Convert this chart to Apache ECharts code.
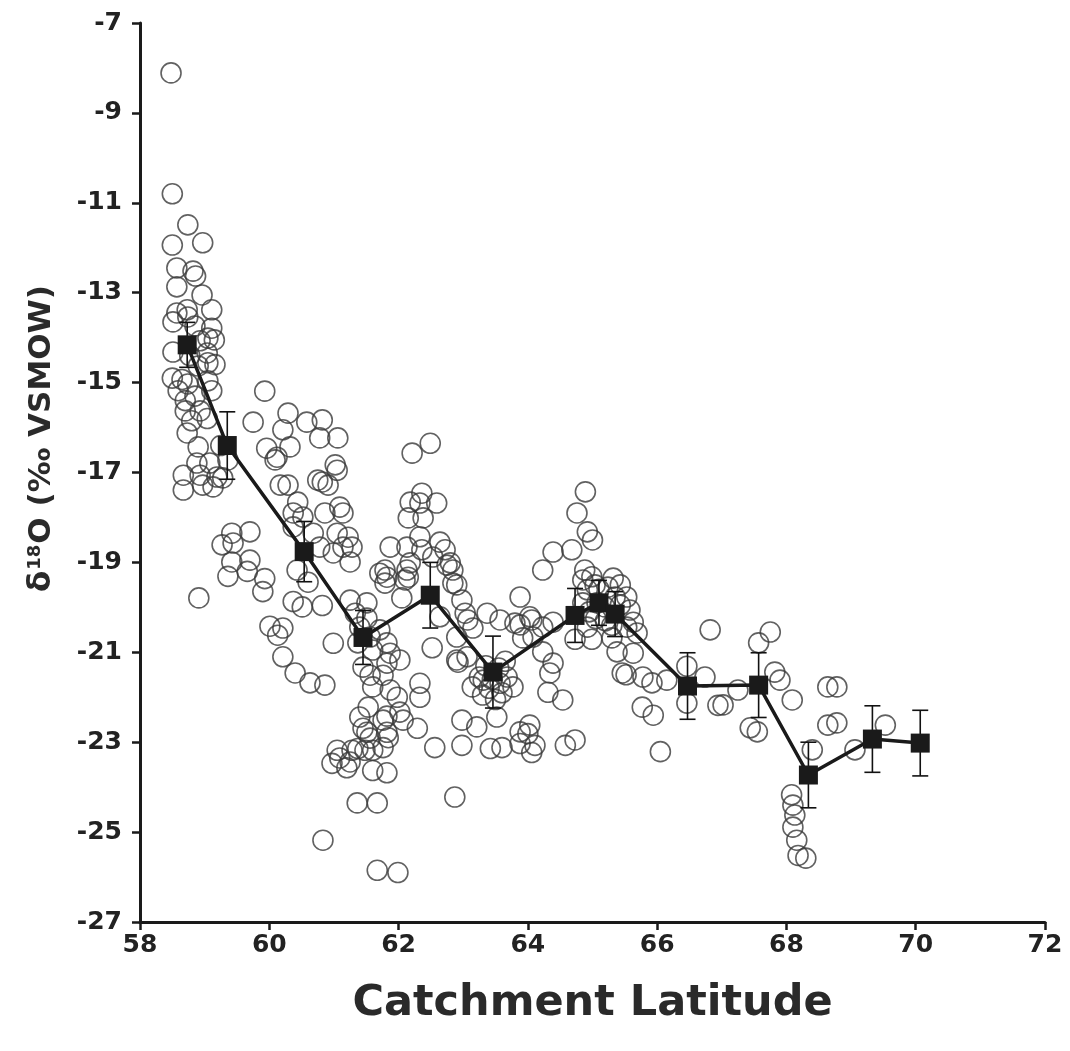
<!DOCTYPE html>
<html>
<head>
<meta charset="utf-8">
<title>δ18O vs Catchment Latitude</title>
<script src="https://cdn.jsdelivr.net/npm/echarts@6/dist/echarts.min.js"></script>
<style>
  html, body { margin: 0; padding: 0; background: #fff; }
  #chart { width: 1070px; height: 1051px; }
</style>
</head>
<body>
<div id="chart"></div>
<script>
// individual samples (open circles)
const sampleLat = [
  58.48, 58.5, 58.5, 58.74, 58.97, 58.57, 58.82, 58.86, 58.57, 58.96,
  58.57, 58.73, 59.11, 58.51, 58.74, 59.11, 59.05, 58.51, 59.04, 59.05,
  58.5, 58.65, 59.05, 59.11, 58.7, 58.7, 59.04, 58.73, 58.9, 58.88,
  59.08, 58.67, 59.19, 58.67, 58.97, 59.13, 58.91, 58.85, 58.93, 58.77,
  58.9, 58.74, 58.85, 58.93, 58.59, 58.8, 59.15, 59.16, 59.25, 59.36,
  59.28, 59.93, 59.75, 60.29, 60.58, 60.82, 60.21, 60.78, 59.96, 60.32,
  60.12, 60.17, 60.29, 60.82, 60.91, 61.02, 61.06, 60.09, 58.93, 60.75,
  61.05, 60.44, 60.37, 60.52, 60.86, 61.09, 61.14, 60.37, 60.68, 60.78,
  61.05, 61.22, 61.14, 61.28, 61.25, 60.99, 60.43, 60.6, 59.27, 59.42,
  59.44, 59.7, 59.42, 59.7, 59.36, 59.66, 59.93, 59.9, 60.37, 60.51,
  60.82, 60.01, 60.21, 60.13, 60.99, 60.21, 60.4, 60.63, 60.86, 61.87,
  61.71, 61.82, 61.79, 62.21, 62.49, 62.36, 62.59, 62.18, 62.33, 62.15,
  62.38, 62.13, 62.33, 62.36, 62.64, 62.72, 62.53, 62.18, 62.8, 61.79,
  62.13, 62.1, 62.84, 62.98, 63.03, 63.07, 63.15, 62.05, 62.64, 62.52,
  62.92, 63.37, 63.57, 63.8, 63.88, 64.06, 62.33, 62.33, 61.6, 61.87,
  61.98, 61.4, 61.76, 62.07, 62.29, 61.51, 61.82, 61.28, 61.48, 61.6,
  61.76, 61.84, 61.09, 61.2, 61.6, 61.82, 61.36, 61.67, 62.56, 62.98,
  63.42, 63.6, 63.88, 64.06, 64.0, 62.87, 61.67, 61.99, 62.98, 63.21,
  63.52, 63.14, 63.31, 63.57, 63.68, 63.77, 61.25, 61.51, 61.33, 61.51,
  61.4, 61.56, 61.37, 61.71, 61.82, 61.6, 61.87, 62.02, 61.82, 61.45,
  61.56, 61.76, 62.15, 61.53, 61.82, 62.02, 61.45, 61.56, 61.05, 61.37,
  60.97, 61.25, 60.83, 62.9, 63.06, 62.9, 62.9, 62.84, 62.75, 63.35,
  63.45, 63.55, 63.4, 63.6, 63.3, 63.5, 63.65, 63.25, 64.89, 64.76,
  64.92, 65.0, 64.39, 64.68, 64.23, 64.88, 64.85, 64.99, 65.04, 64.92,
  65.32, 65.43, 65.24, 65.35, 65.53, 65.43, 65.58, 65.63, 65.69, 65.53,
  65.07, 65.19, 64.03, 63.88, 64.39, 64.23, 64.08, 63.92, 64.73, 64.99,
  64.92, 65.38, 65.63, 65.3, 64.23, 64.39, 64.34, 64.31, 64.54, 65.46,
  65.52, 65.78, 65.92, 66.15, 65.77, 65.94, 66.46, 66.74, 66.46, 66.94,
  66.82, 64.03, 64.11, 63.88, 64.58, 64.73, 66.05, 65.1, 65.2, 64.95,
  65.3, 64.85, 65.05, 67.75, 67.57, 67.02, 67.25, 67.82, 67.9, 68.09,
  67.44, 67.55, 68.64, 68.78, 68.64, 68.78, 68.4, 69.06, 69.53, 68.08,
  68.1, 68.13, 68.1, 68.16, 68.18, 68.3
];
const sampleD18O = [
  -8.11, -10.8, -11.94, -11.49, -11.89, -12.45, -12.52, -12.63, -12.87, -13.05,
  -13.45, -13.38, -13.38, -13.65, -13.54, -13.79, -14.01, -14.32, -14.34, -14.56,
  -14.9, -14.93, -14.96, -15.18, -15.4, -15.63, -15.8, -16.12, -16.43, -16.79,
  -16.79, -17.06, -17.1, -17.39, -17.28, -17.32, -19.79, -13.74, -14.07, -14.4,
  -14.63, -15.03, -15.3, -15.63, -15.18, -15.85, -14.05, -14.6, -16.4, -16.72,
  -17.12, -15.19, -15.88, -15.68, -15.88, -15.83, -16.05, -16.23, -16.46, -16.43,
  -16.66, -17.28, -17.28, -17.21, -17.28, -16.83, -16.23, -16.72, -17.06, -17.17,
  -16.95, -17.66, -17.9, -17.99, -17.9, -17.77, -17.9, -18.21, -18.35, -18.66,
  -18.35, -18.44, -18.66, -18.66, -18.99, -18.79, -19.17, -19.44, -18.61, -18.35,
  -18.57, -18.32, -18.99, -18.95, -19.31, -19.2, -19.36, -19.65, -19.87, -19.99,
  -19.96, -20.42, -20.46, -20.62, -20.8, -21.1, -21.46, -21.68, -21.73, -18.66,
  -19.24, -19.33, -19.46, -16.57, -16.35, -17.46, -17.68, -17.66, -17.68, -18.01,
  -18.01, -18.66, -18.43, -18.72, -18.55, -18.72, -18.88, -19.01, -19.01, -19.17,
  -19.17, -19.39, -19.46, -19.84, -20.13, -20.28, -20.46, -19.79, -20.21, -20.9,
  -21.22, -20.13, -20.28, -20.35, -19.77, -20.28, -21.69, -22.0, -21.77, -21.84,
  -22.0, -22.44, -22.51, -22.51, -22.69, -22.78, -22.78, -23.18, -23.18, -23.18,
  -23.12, -22.9, -23.35, -23.57, -23.63, -23.68, -24.35, -24.35, -23.12, -23.07,
  -23.14, -23.12, -23.03, -23.23, -22.81, -24.22, -25.85, -25.9, -22.51, -22.66,
  -22.44, -21.77, -21.62, -21.69, -21.55, -21.77, -19.84, -19.9, -20.13, -20.24,
  -20.44, -20.66, -20.79, -20.5, -20.79, -20.95, -21.02, -21.17, -21.24, -21.33,
  -21.51, -21.51, -19.33, -22.22, -22.42, -22.33, -22.69, -22.91, -23.18, -23.14,
  -23.47, -23.44, -25.18, -21.17, -21.1, -20.66, -19.5, -19.17, -19.06, -21.3,
  -21.6, -21.35, -21.8, -21.9, -21.95, -22.05, -21.2, -21.55, -17.43, -17.9,
  -18.32, -18.5, -18.77, -18.72, -19.17, -19.17, -19.39, -19.32, -19.5, -19.61,
  -19.35, -19.5, -19.55, -19.77, -19.77, -19.95, -20.06, -20.33, -20.57, -20.44,
  -19.9, -19.99, -20.21, -20.39, -20.33, -20.44, -20.66, -20.68, -20.71, -20.71,
  -20.44, -20.99, -21.02, -20.68, -20.99, -21.24, -21.46, -21.89, -22.06, -21.46,
  -21.5, -21.55, -21.68, -21.62, -22.22, -22.4, -21.31, -21.55, -22.13, -22.18,
  -20.5, -22.62, -23.07, -22.77, -23.07, -22.95, -23.21, -19.6, -20.3, -20.1,
  -20.4, -19.9, -20.25, -20.55, -20.79, -22.17, -21.84, -21.44, -21.62, -22.06,
  -22.68, -22.77, -21.77, -21.77, -22.62, -22.57, -23.17, -23.17, -22.62, -24.17,
  -24.4, -24.62, -24.89, -25.18, -25.52, -25.58
];

// binned means (filled squares) with error bars
const meanLat = [58.73, 59.35, 60.54, 61.45, 62.49, 63.46, 64.73, 65.1, 65.35, 66.47, 67.57, 68.34, 69.33, 70.07];
const meanD18O = [-14.16, -16.4, -18.76, -20.67, -19.73, -21.44, -20.18, -19.9, -20.15, -21.75, -21.73, -23.73, -22.93, -23.02];
const meanErr = [0.5, 0.75, 0.67, 0.6, 0.73, 0.8, 0.6, 0.5, 0.5, 0.74, 0.72, 0.73, 0.74, 0.73];

const xTicks = { min: 58, max: 72, interval: 2 };
const yTicks = { min: -27, max: -7, interval: 2 };

const font = '"DejaVu Sans", Arial, sans-serif';
const chart = echarts.init(document.getElementById('chart'));

const axisCommon = {
  axisLine: { show: true, onZero: false, lineStyle: { color: '#1a1a1a', width: 3 } },
  axisTick: { show: true, inside: false, length: 8, lineStyle: { color: '#1a1a1a', width: 2.5 } },
  splitLine: { show: false },
  axisLabel: { color: '#222', fontFamily: font, fontWeight: 'bold', fontSize: 25 }
};

chart.setOption({
  animation: false,
  backgroundColor: '#fff',
  grid: { left: 140, right: 25, top: 23, bottom: 129 },
  xAxis: {
    type: 'value',
    min: xTicks.min, max: xTicks.max, interval: xTicks.interval,
    ...axisCommon,
    axisLabel: { ...axisCommon.axisLabel, margin: 11 },
    name: 'Catchment Latitude',
    nameLocation: 'middle',
    nameGap: 60,
    nameTextStyle: { color: '#2a2a2a', fontFamily: font, fontWeight: 'bold', fontSize: 43 }
  },
  yAxis: {
    type: 'value',
    min: yTicks.min, max: yTicks.max, interval: yTicks.interval,
    ...axisCommon,
    axisLabel: { ...axisCommon.axisLabel, margin: 18 },
    name: '{t|δ}{s|18}{t|O (‰ VSMOW)}',
    nameLocation: 'middle',
    nameGap: 82,
    nameTextStyle: {
      padding: [0, 0, 0, 68],
      rich: {
        t: { color: '#2a2a2a', fontFamily: font, fontWeight: 'bold', fontSize: 31 },
        s: { color: '#2a2a2a', fontFamily: font, fontWeight: 'bold', fontSize: 18, verticalAlign: 'top', padding: [0, 1, 14, 1] }
      }
    }
  },
  series: [
    {
      type: 'scatter',
      data: sampleLat.map((x, i) => [x, sampleD18O[i]]),
      symbol: 'circle',
      symbolSize: 20,
      itemStyle: { color: 'rgba(0,0,0,0)', borderColor: '#3a3a3a', borderWidth: 1.6 },
      z: 2
    },
    {
      type: 'custom',
      data: meanLat.map((x, i) => [x, meanD18O[i], meanErr[i]]),
      renderItem(params, api) {
        const x = api.value(0), y = api.value(1), e = api.value(2);
        const top = api.coord([x, y + e]);
        const bot = api.coord([x, y - e]);
        const hw = 8;
        const st = { stroke: '#111', lineWidth: 1.6 };
        return {
          type: 'group',
          children: [
            { type: 'line', shape: { x1: top[0], y1: top[1], x2: bot[0], y2: bot[1] }, style: st },
            { type: 'line', shape: { x1: top[0] - hw, y1: top[1], x2: top[0] + hw, y2: top[1] }, style: st },
            { type: 'line', shape: { x1: bot[0] - hw, y1: bot[1], x2: bot[0] + hw, y2: bot[1] }, style: st }
          ]
        };
      },
      z: 3
    },
    {
      type: 'line',
      data: meanLat.map((x, i) => [x, meanD18O[i]]),
      symbol: 'rect',
      symbolSize: 19,
      showAllSymbol: true,
      itemStyle: { color: '#1a1a1a' },
      lineStyle: { color: '#1a1a1a', width: 3.5 },
      z: 4
    }
  ]
});
</script>
</body>
</html>
